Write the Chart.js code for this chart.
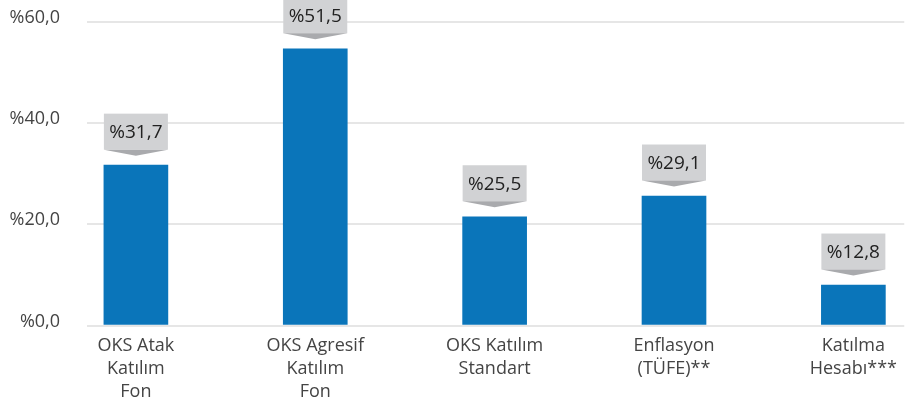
<!DOCTYPE html>
<html><head><meta charset="utf-8">
<script src="https://cdn.jsdelivr.net/npm/chart.js@4"></script>
<style>html,body{margin:0;padding:0;background:#fff;overflow:hidden}#wrap{width:906px;height:409px;position:relative}</style>
</head><body><div id="wrap"><canvas id="c"></canvas></div>
<script>
const categories = [["OKS Atak","Katılım","Fon"],["OKS Agresif","Katılım","Fon"],["OKS Katılım","Standart"],["Enflasyon","(TÜFE)**"],["Katılma","Hesabı***"]];
const barValues = [31.7, 54.7, 21.5, 25.6, 8.0];
const valueLabels = ["%31,7","%51,5","%25,5","%29,1","%12,8"];
const yTicks = [0, 20, 40, 60];

const FONT = "'Open Sans', sans-serif";

const calloutPlugin = {
  id: 'callouts',
  afterDatasetsDraw(chart) {
    const ctx = chart.ctx;
    const meta = chart.getDatasetMeta(0);
    meta.data.forEach((bar, i) => {
      const w = bar.width;
      const left = bar.x - w / 2;
      const bottom = bar.y - 15.5;
      const h = 36;
      const tip = bar.y - 9.5;
      ctx.save();
      ctx.fillStyle = '#d1d2d4';
      ctx.fillRect(left, bottom - h, w, h);
      ctx.fillStyle = '#a9aaad';
      ctx.beginPath();
      ctx.moveTo(left, bottom);
      ctx.lineTo(left + w, bottom);
      ctx.lineTo(bar.x, tip);
      ctx.closePath();
      ctx.fill();
      ctx.fillStyle = '#222';
      ctx.font = '19px ' + FONT;
      ctx.textAlign = 'center';
      ctx.textBaseline = 'middle';
      ctx.fillText(valueLabels[i], bar.x, bottom - h / 2 + 1);
      ctx.restore();
    });
  }
};

new Chart(document.getElementById('c'), {
  type: 'bar',
  data: {
    datasets: [{
      data: barValues.map((v, i) => ({ x: i, y: v })),
      backgroundColor: '#0a75ba',
      barThickness: 64
    }]
  },
  options: {
    responsive: true,
    maintainAspectRatio: false,
    animation: false,
    layout: { padding: { top: 22, right: 0, left: 0, bottom: 0 } },
    plugins: { legend: { display: false }, tooltip: { enabled: false } },
    scales: {
      x: {
        type: 'linear',
        offset: false,
        min: -0.2726,
        max: 4.2837,
        grid: { display: false, drawTicks: false, offset: false },
        border: { display: false },
        afterBuildTicks: (s) => { s.ticks = categories.map((c, i) => ({ value: i })); },
        afterFit: (s) => { s.height = 83.5; },
        ticks: {
          autoSkip: false,
          maxRotation: 0,
          padding: 9,
          color: '#444',
          font: { family: FONT, size: 18, lineHeight: '23px' },
          callback: (v) => categories[v]
        }
      },
      y: {
        min: 0,
        max: 60,
        afterBuildTicks: (s) => { s.ticks = yTicks.map(v => ({ value: v })); },
        afterFit: (s) => { s.width = 87; },
        grid: { color: '#e6e6e6', lineWidth: 2, drawTicks: true, tickLength: 27, tickColor: 'rgba(0,0,0,0)' },
        border: { display: false },
        ticks: {
          padding: 0,
          color: '#444',
          font: { family: FONT, size: 18, lineHeight: '8px' },
          callback: (v) => ['%' + Number(v).toFixed(1).replace('.', ','), '']
        }
      }
    }
  },
  plugins: [calloutPlugin]
});
</script></body></html>
